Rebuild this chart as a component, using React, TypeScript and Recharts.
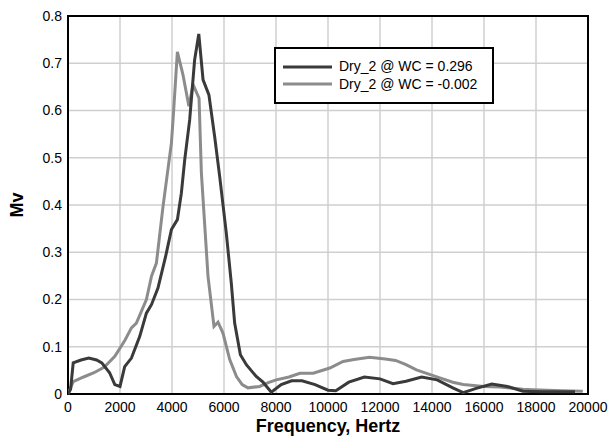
import React from 'react';
import {
  LineChart,
  Line,
  XAxis,
  YAxis,
  CartesianGrid,
  ReferenceArea,
  Label,
} from 'recharts';

// frequency (Hz) and amplitude (Mv)
const wetFreq = [
  0, 100, 200, 500, 800, 1100, 1300, 1600, 1800, 2000, 2180, 2440, 2760, 3015, 3210, 3460,
  3750, 3977, 4207, 4360, 4490, 4680, 4870, 5030, 5195, 5420, 5640, 5835, 6090, 6280, 6410,
  6630, 6860, 7240, 7500, 7820, 8200, 8600, 9000, 9500, 10000, 10300, 10800, 11400, 12000,
  12500, 13000, 13600, 14200, 14800, 15200, 15700, 16300, 16900, 17500, 18200, 19500,
];
const wetMv = [
  0, 0.01, 0.066, 0.072, 0.076, 0.072, 0.066, 0.045, 0.02, 0.016, 0.058, 0.076, 0.122, 0.171,
  0.189, 0.224, 0.29, 0.348, 0.369, 0.425, 0.496, 0.58, 0.707, 0.762, 0.665, 0.633, 0.545,
  0.46, 0.34, 0.235, 0.15, 0.083, 0.062, 0.037, 0.025, 0.004, 0.02, 0.028, 0.028, 0.02, 0.008,
  0.007, 0.025, 0.036, 0.032, 0.022, 0.027, 0.036, 0.03, 0.013, 0.003, 0.012, 0.021, 0.016,
  0.006, 0.005, 0.005,
];

const dryFreq = [
  0, 200, 600, 1000, 1400, 1800, 2000, 2200, 2440, 2630, 3015, 3210, 3400, 3655, 3977, 4040,
  4207, 4420, 4650, 4810, 5040, 5130, 5385, 5615, 5770, 5960, 6220, 6480, 6700, 6920, 7370,
  7700, 8010, 8500, 8920, 9430, 10070, 10580, 11000, 11600, 12200, 12600, 13000, 13400, 14300,
  14800, 15200, 16000, 16600, 17500, 17880, 19000, 19800,
];
const dryMv = [
  0, 0.026, 0.036, 0.045, 0.057, 0.08, 0.097, 0.115, 0.14, 0.15, 0.2, 0.249, 0.277, 0.397,
  0.531, 0.58, 0.724, 0.676, 0.609, 0.655, 0.626, 0.468, 0.249, 0.143, 0.152, 0.129, 0.073,
  0.037, 0.02, 0.013, 0.016, 0.024, 0.03, 0.036, 0.044, 0.044, 0.055, 0.069, 0.073, 0.078,
  0.074, 0.071, 0.062, 0.051, 0.034, 0.025, 0.02, 0.016, 0.015, 0.01, 0.009, 0.007, 0.006,
];

const seriesNames = ['Dry_2 @ WC = 0.296', 'Dry_2 @ WC = -0.002'];
const seriesColors = ['#3a3a3a', '#8c8c8c'];

const xTicks = [0, 2000, 4000, 6000, 8000, 10000, 12000, 14000, 16000, 18000, 20000];
const yTicks = [0, 0.1, 0.2, 0.3, 0.4, 0.5, 0.6, 0.7, 0.8];

const wetData = wetFreq.map((f, i) => ({ freq: f, mv: wetMv[i] }));
const dryData = dryFreq.map((f, i) => ({ freq: f, mv: dryMv[i] }));

const FONT = '"Liberation Sans", Arial, sans-serif';

// legend drawn as an overlay so it doesn't eat into the plot area
const LegendBox = () => (
  <div
    style={{
      position: 'absolute',
      left: 274,
      top: 47,
      width: 209,
      border: '2px solid #000',
      background: '#fff',
      padding: '9px 0 9px 7px',
      fontFamily: FONT,
      fontSize: 14,
      color: '#000',
      lineHeight: '17.5px',
      whiteSpace: 'nowrap',
    }}
  >
    {seriesNames.map((name, i) => (
      <div key={name} style={{ display: 'flex', alignItems: 'center' }}>
        <svg width={49} height={6} style={{ marginRight: 7 }}>
          <line x1={0} y1={3} x2={49} y2={3} stroke={seriesColors[i]} strokeWidth={3} />
        </svg>
        <span>{name}</span>
      </div>
    ))}
  </div>
);

export default function App() {
  return (
    <div style={{ position: 'absolute', left: 0, top: 0, width: 609, height: 443, background: '#fff' }}>
      <LineChart
        width={609}
        height={443}
        margin={{ top: 16, right: 21, left: 8, bottom: 9 }}
        style={{ fontFamily: FONT }}
      >
        <CartesianGrid stroke="#cfcfcf" strokeWidth={1.5} horizontalValues={yTicks} verticalValues={xTicks} />
        <XAxis
          dataKey="freq"
          type="number"
          domain={[0, 20000]}
          ticks={xTicks}
          allowDataOverflow
          height={40}
          tickLine={false}
          axisLine={false}
          tickSize={4}
          tickMargin={4}
          tick={{ fill: '#000', fontSize: 14 }}
        >
          <Label
            value="Frequency, Hertz"
            position="insideBottom"
            offset={2}
            style={{ fontSize: 18, fontWeight: 'bold', fill: '#000' }}
          />
        </XAxis>
        <YAxis
          type="number"
          domain={[0, 0.8]}
          ticks={yTicks}
          width={60}
          tickLine={false}
          axisLine={false}
          tickSize={4}
          tickMargin={2}
          tick={{ fill: '#000', fontSize: 14 }}
        >
          <Label
            value="Mv"
            angle={-90}
            position="insideLeft"
            offset={9}
            style={{ fontSize: 18, fontWeight: 'bold', fill: '#000', textAnchor: 'middle' }}
          />
        </YAxis>
        <Line
          data={dryData}
          dataKey="mv"
          name={seriesNames[1]}
          stroke={seriesColors[1]}
          strokeWidth={3}
          dot={false}
          type="linear"
          isAnimationActive={false}
        />
        <Line
          data={wetData}
          dataKey="mv"
          name={seriesNames[0]}
          stroke={seriesColors[0]}
          strokeWidth={3}
          dot={false}
          type="linear"
          isAnimationActive={false}
        />
        <ReferenceArea x1={0} x2={20000} y1={0} y2={0.8} fill="none" stroke="#000" strokeWidth={2} />
      </LineChart>
      <LegendBox />
    </div>
  );
}
